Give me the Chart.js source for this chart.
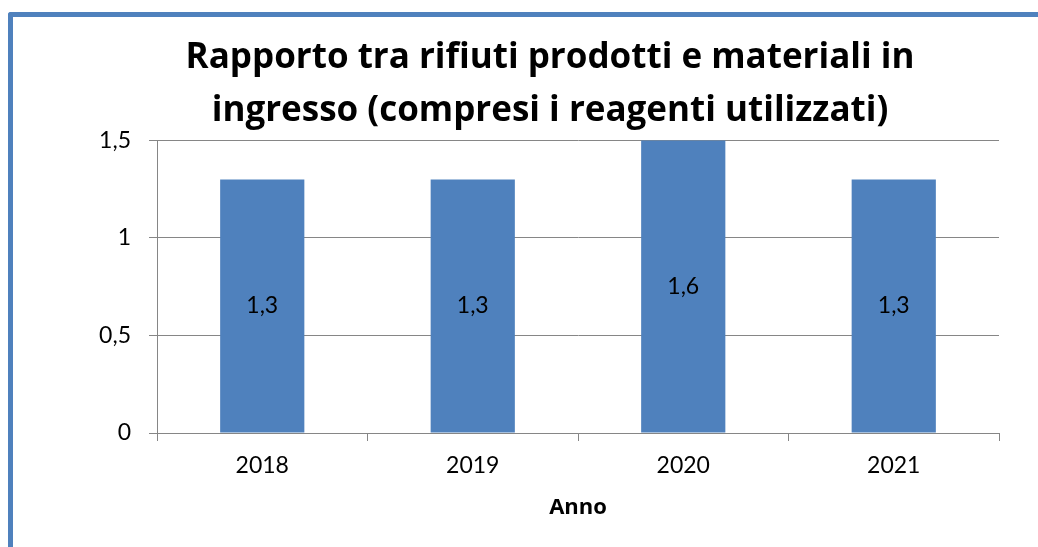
<!DOCTYPE html>
<html>
<head>
<meta charset="utf-8">
<script src="https://cdn.jsdelivr.net/npm/chart.js@4"></script>
<style>
  html, body { margin: 0; padding: 0; background: #fff; overflow: hidden; }
  .frame {
    position: absolute; left: 8px; top: 12px; width: 1100px; height: 600px;
    border-left: 5px solid #4f81bd; border-top: 5px solid #4f81bd;
    border-top-left-radius: 3px;
  }
  #myChart { position: absolute; left: 0; top: 0; }
</style>
</head>
<body>
<div class="frame"></div>
<canvas id="myChart" width="1038" height="547"></canvas>
<script>
const years = ["2018", "2019", "2020", "2021"];
const ratio = [1.3, 1.3, 1.6, 1.3];
const chartTitle = ["Rapporto tra rifiuti prodotti e materiali in", "ingresso (compresi i reagenti utilizzati)"];

const fmt = v => String(v).replace(".", ",");

// write the value in the middle of each (visible part of the) bar
const barLabels = {
  id: "barLabels",
  afterLayout(chart) {
    // original title is centred a bit right of the canvas middle
    if (chart.titleBlock) chart.titleBlock.left = 101;
  },
  afterDatasetsDraw(chart) {
    const ctx = chart.ctx;
    const top = chart.chartArea.top;
    ctx.save();
    ctx.font = "23px Lato";
    ctx.fillStyle = "#000";
    ctx.textAlign = "center";
    ctx.textBaseline = "middle";
    chart.getDatasetMeta(0).data.forEach((bar, i) => {
      const y = (Math.max(bar.y, top) + bar.base) / 2;
      ctx.fillText(fmt(chart.data.datasets[0].data[i]), bar.x, y);
    });
    ctx.restore();
  }
};

new Chart("myChart", {
  type: "bar",
  data: {
    labels: years,
    datasets: [{
      data: ratio,
      backgroundColor: "#4f81bd",
      categoryPercentage: 1,
      barPercentage: 0.4
    }]
  },
  options: {
    responsive: false,
    animation: false,
    layout: { padding: { top: 0, left: 0, right: 39, bottom: 0 } },
    plugins: {
      legend: { display: false },
      tooltip: { enabled: false },
      title: {
        display: true,
        text: chartTitle,
        color: "#000",
        font: { family: "Open Sans", size: 35, weight: "bold", lineHeight: 1.52 },
        padding: { top: 31, bottom: 3 }
      }
    },
    scales: {
      x: {
        afterFit: s => { s.height = 114; },
        grid: { offset: true, drawOnChartArea: false, color: "#868686", tickLength: 8 },
        border: { color: "#868686" },
        ticks: { color: "#000", font: { family: "Lato", size: 23 }, padding: 11 },
        title: {
          display: true, text: "Anno", color: "#000",
          font: { family: "Open Sans", size: 22, weight: "bold" },
          padding: { top: 0, bottom: 26 }
        }
      },
      y: {
        min: 0, max: 1.5,
        afterFit: s => { s.width = 157; },
        grid: { color: "#868686", tickLength: 8 },
        border: { color: "#868686" },
        ticks: {
          stepSize: 0.5, color: "#000", padding: 18,
          font: { family: "Lato", size: 23 },
          callback: v => fmt(v)
        }
      }
    }
  },
  plugins: [barLabels]
});
</script>
</body>
</html>
